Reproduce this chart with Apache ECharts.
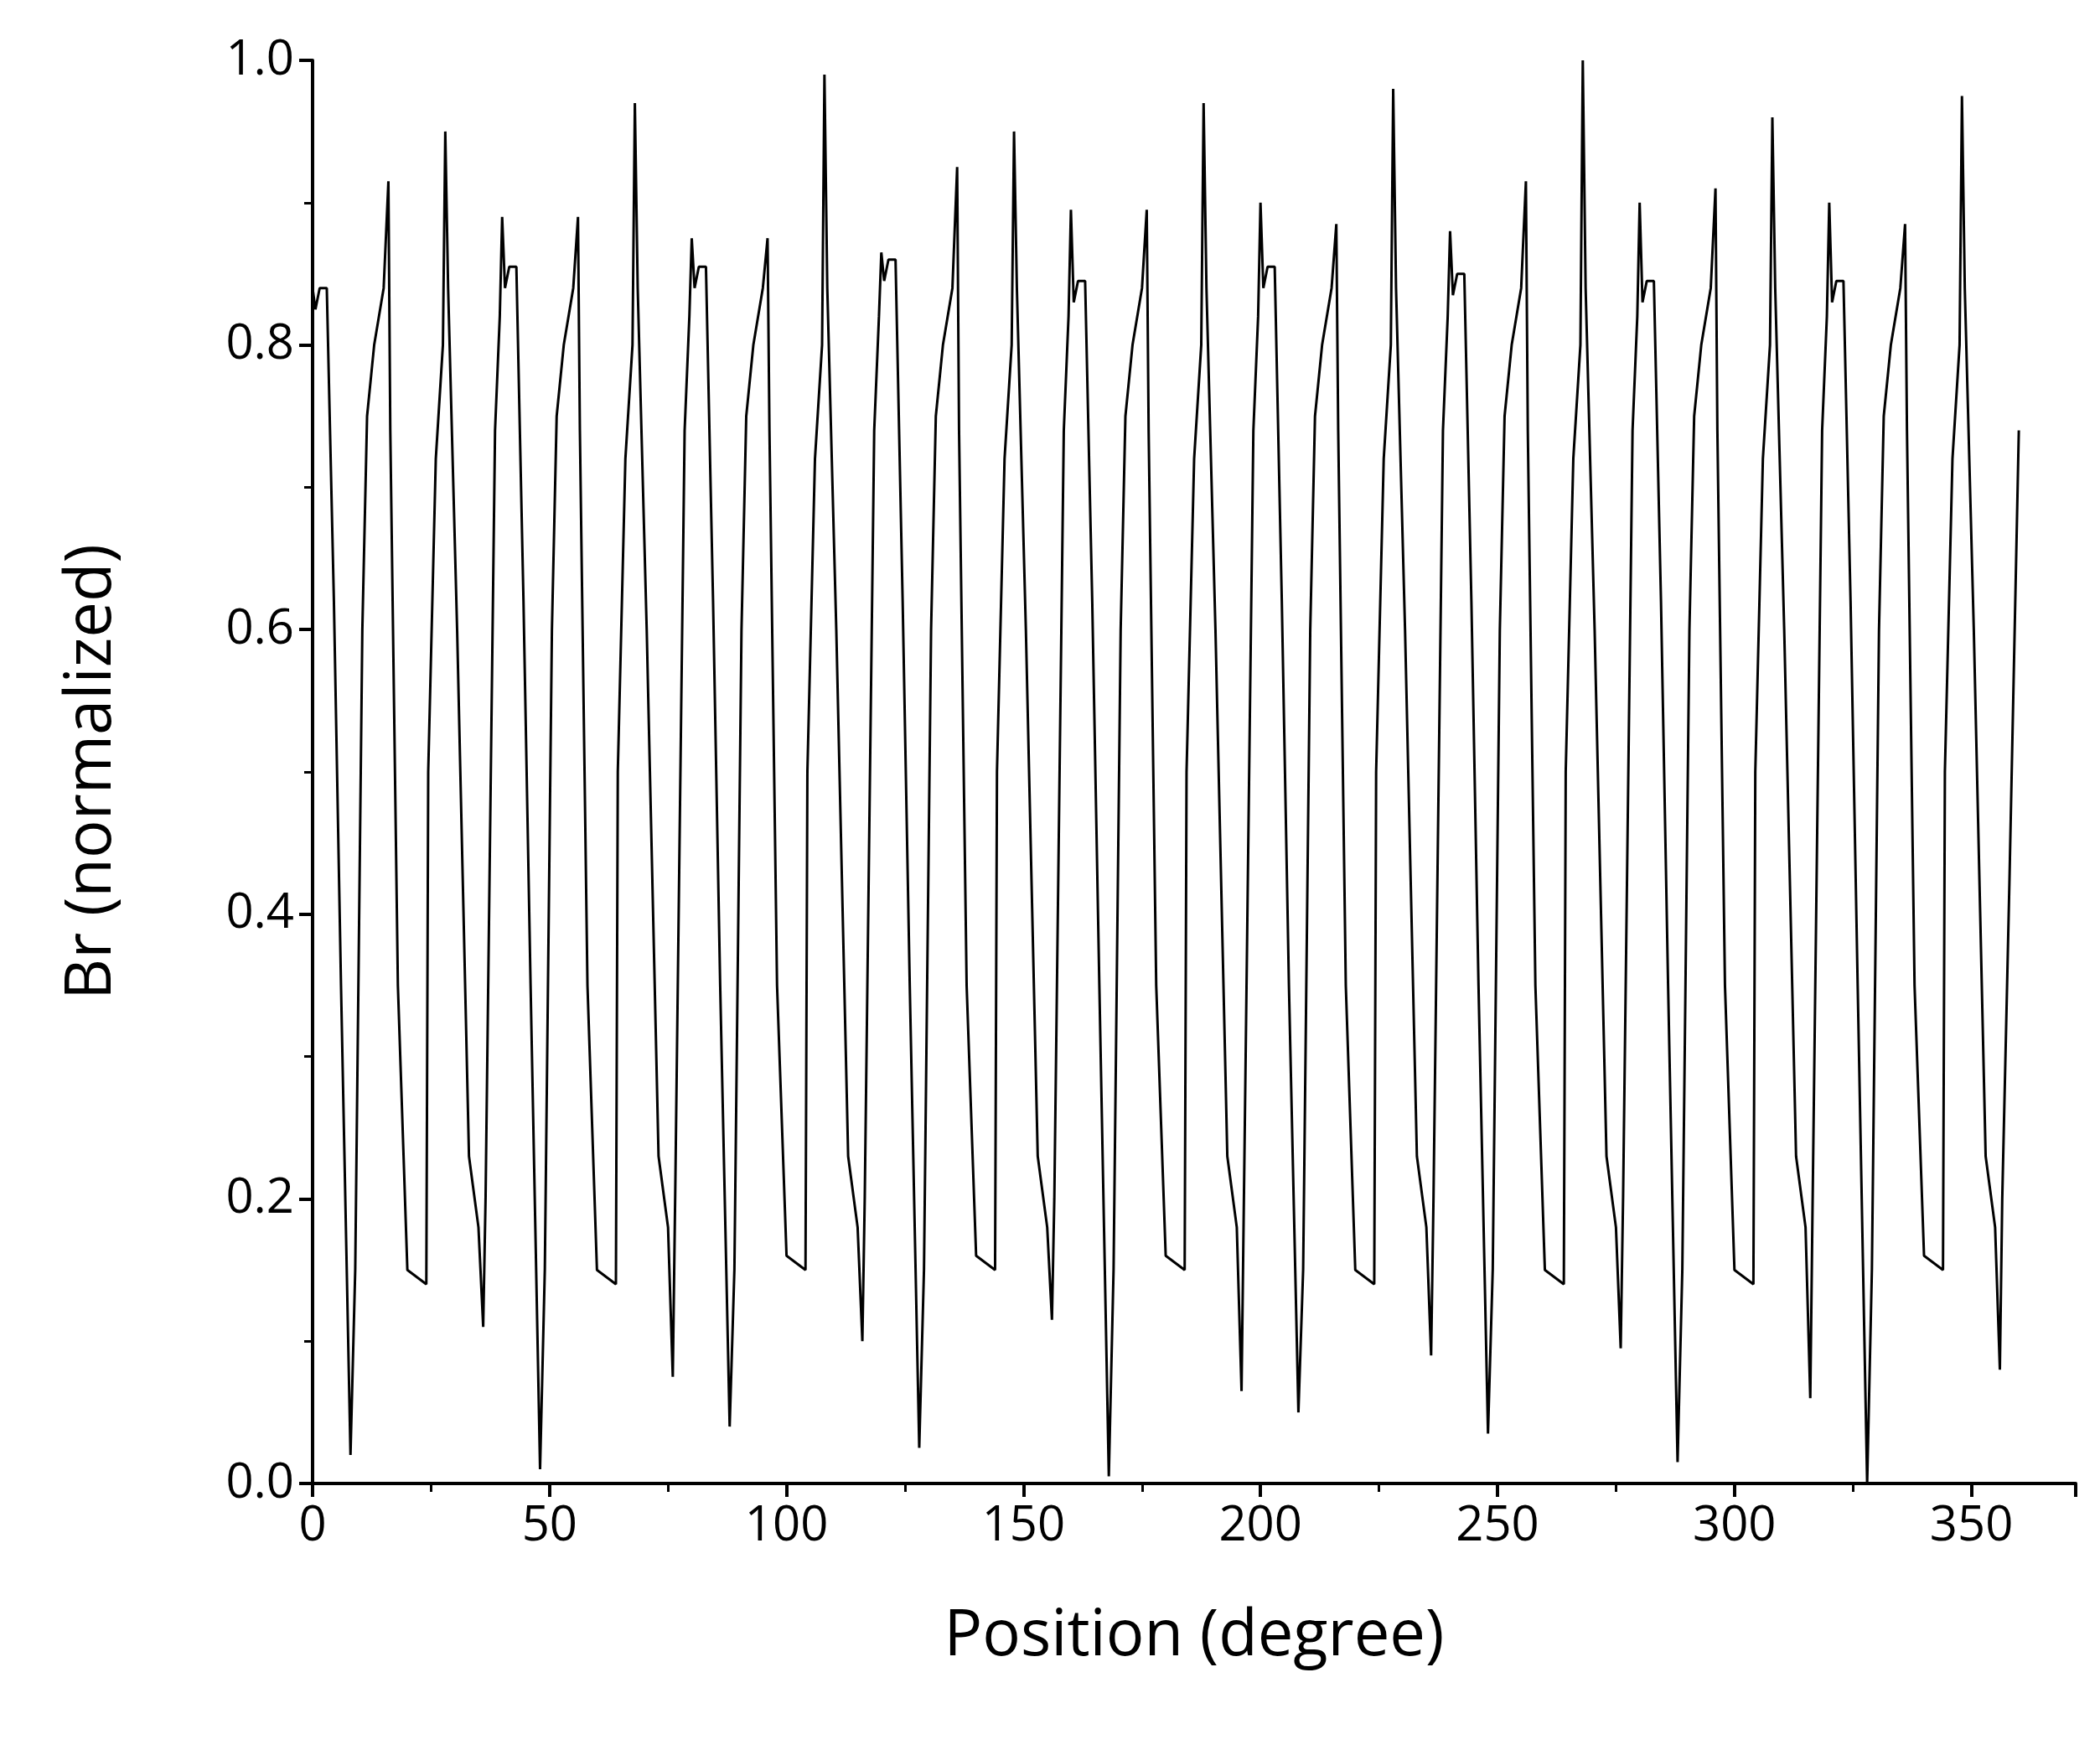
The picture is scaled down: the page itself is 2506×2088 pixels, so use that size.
<!DOCTYPE html>
<html>
<head>
<meta charset="utf-8">
<script src="https://cdn.jsdelivr.net/npm/echarts@6/dist/echarts.min.js"></script>
<style>html,body{margin:0;background:#fff}#c{width:2506px;height:2088px}</style>
</head>
<body>
<div id="c"></div>
<script>
// one 40-degree cycle: offsets (degree) of the vertices
var offsets = [0, 0.6, 1.5, 3, 4.5, 6, 8, 9, 10.5, 11.5, 13, 15, 16, 16.4, 18, 20, 24, 24.4, 26, 27.5, 28, 28.6, 30.5, 33, 35, 36, 36.5, 38.5, 39.5, 40];
// per-cycle values (9 cycles, starting 0,40,...,320)
var topLvl   = [0.84, 0.855, 0.855, 0.86, 0.845, 0.855, 0.85, 0.845, 0.845];
var min1     = [0.02, 0.01, 0.04, 0.025, 0.005, 0.05, 0.035, 0.015, 0.0];
var spike1   = [0.915, 0.89, 0.875, 0.925, 0.895, 0.885, 0.915, 0.91, 0.885];
var botLvl   = [0.14, 0.14, 0.15, 0.15, 0.15, 0.14, 0.14, 0.14, 0.15];
var spike2   = [0.95, 0.97, 0.99, 0.95, 0.97, 0.98, 1.0, 0.96, 0.975];
var min2     = [0.11, 0.075, 0.10, 0.115, 0.065, 0.09, 0.095, 0.06, 0.08];
var spike3   = [0.89, 0.875, 0.865, 0.895, 0.90, 0.88, 0.90, 0.90];
var endPts   = [[358, 0.42], [360, 0.74]];

var data = [];
for (var k = 0; k < 9; k++) {
  var t = topLvl[k], b = botLvl[k];
  var ys = [k === 0 ? t : t - 0.025, t - 0.015, t, t, 0.62, 0.35, min1[k], 0.15, 0.6, 0.75, 0.8, 0.84, spike1[k], 0.74,
            0.35, b + 0.01, b, 0.5, 0.72, 0.8, spike2[k], 0.84, 0.6, 0.23, 0.18, min2[k],
            0.2, 0.74, 0.82, spike3[k]];
  var last = k === 8 ? 26 : offsets.length - 1;
  for (var i = 0; i <= last; i++) {
    if (k > 0 && i === 0) continue;
    data.push([40 * k + offsets[i], ys[i]]);
  }
}
endPts.forEach(function (p) { data.push(p); });

var font = '"Open Sans", "DejaVu Sans", sans-serif';
var chart = echarts.init(document.getElementById('c'));
chart.setOption({
  animation: false,
  grid: {left: 373, right: 29, top: 72, bottom: 318},
  xAxis: {
    type: 'value', min: 0, max: 372, interval: 50,
    name: 'Position (degree)', nameLocation: 'middle', nameGap: 145,
    nameTextStyle: {fontSize: 76, color: '#000', fontFamily: font},
    axisLine: {lineStyle: {color: '#000', width: 4}},
    axisTick: {inside: false, length: 16, lineStyle: {color: '#000', width: 4}},
    minorTick: {show: true, splitNumber: 2, length: 10, lineStyle: {color: '#000', width: 3}},
    axisLabel: {fontSize: 58, color: '#000', fontFamily: font, margin: 22, showMaxLabel: false},
    splitLine: {show: false}
  },
  yAxis: {
    type: 'value', min: 0, max: 1, interval: 0.2,
    name: 'Br (normalized)', nameLocation: 'middle', nameGap: 225,
    nameTextStyle: {fontSize: 76, color: '#000', fontFamily: font},
    axisLine: {show: true, lineStyle: {color: '#000', width: 4}},
    axisTick: {show: true, length: 16, lineStyle: {color: '#000', width: 4}},
    minorTick: {show: true, splitNumber: 2, length: 10, lineStyle: {color: '#000', width: 3}},
    axisLabel: {fontSize: 58, color: '#000', fontFamily: font, margin: 22,
      formatter: function (v) { return v.toFixed(1); }},
    splitLine: {show: false}
  },
  series: [{
    type: 'line', data: data, showSymbol: false,
    lineStyle: {color: '#000', width: 3}
  }]
});
</script>
</body>
</html>
